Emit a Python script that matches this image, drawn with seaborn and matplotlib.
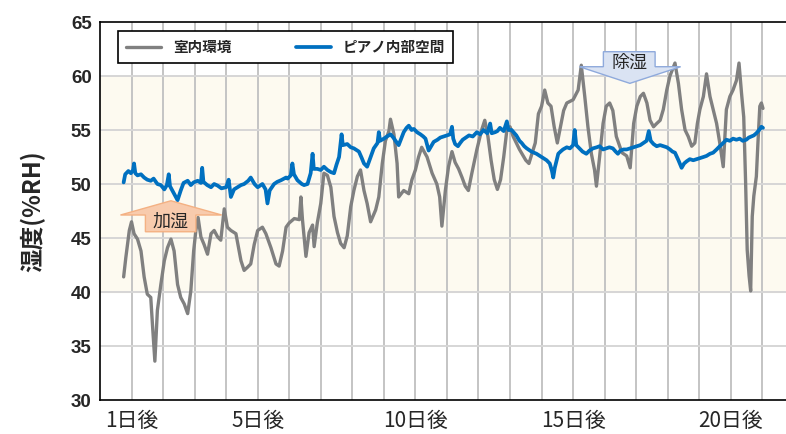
import pandas as pd
import seaborn as sns
import matplotlib.pyplot as plt
from matplotlib.patches import Polygon

# 室内環境 (room humidity), day -> %RH
room_day = [0.75, 0.82, 0.93, 1.00, 1.08, 1.19, 1.30, 1.40, 1.50, 1.61, 1.67, 1.74, 1.82, 1.93,
            2.04, 2.14, 2.25, 2.35, 2.46, 2.56, 2.67, 2.78, 2.88, 2.97, 3.04, 3.11, 3.20, 3.30,
            3.41, 3.52, 3.62, 3.73, 3.83, 3.94, 4.04, 4.15, 4.31, 4.47, 4.57, 4.68, 4.78, 4.89,
            5.00, 5.15, 5.26, 5.42, 5.58, 5.68, 5.79, 5.90, 6.00, 6.16, 6.32, 6.37, 6.42, 6.53,
            6.63, 6.74, 6.79, 6.89, 7.00, 7.10, 7.21, 7.32, 7.42, 7.53, 7.63, 7.74, 7.84, 7.95,
            8.05, 8.16, 8.26, 8.37, 8.47, 8.58, 8.74, 8.84, 8.95, 9.05, 9.16, 9.21, 9.32, 9.42,
            9.47, 9.63, 9.79, 9.89, 10.00, 10.10, 10.20, 10.37, 10.53, 10.68, 10.77, 10.84, 10.95,
            11.05, 11.16, 11.26, 11.37, 11.48, 11.58, 11.68, 11.79, 11.95, 12.10, 12.20, 12.30,
            12.40, 12.50, 12.60, 12.70, 12.80, 12.90, 13.00, 13.10, 13.30, 13.50, 13.60, 13.80,
            13.90, 14.00, 14.10, 14.20, 14.30, 14.40, 14.50, 14.60, 14.70, 14.80, 15.00, 15.16,
            15.26, 15.37, 15.47, 15.58, 15.68, 15.74, 15.84, 15.95, 16.05, 16.16, 16.26, 16.37,
            16.55, 16.70, 16.81, 16.92, 17.02, 17.13, 17.23, 17.34, 17.44, 17.55, 17.65, 17.76,
            17.86, 17.97, 18.07, 18.23, 18.34, 18.44, 18.55, 18.65, 18.76, 18.86, 18.94, 19.02,
            19.13, 19.23, 19.34, 19.44, 19.55, 19.65, 19.76, 19.86, 19.97, 20.07, 20.18, 20.26,
            20.34, 20.41, 20.47, 20.52, 20.58, 20.63, 20.68, 20.73, 20.81, 20.86, 20.92, 20.97,
            21.02]
room_rh = [41.4, 43.2, 45.7, 46.5, 45.4, 44.9, 43.8, 41.4, 39.8, 39.5, 36.7, 33.6, 38.3, 40.7,
           42.9, 44.1, 44.9, 43.8, 40.7, 39.5, 38.9, 38.0, 40.1, 43.8, 45.7, 46.9, 45.1, 44.4,
           43.5, 45.4, 45.7, 45.1, 44.8, 47.7, 46.0, 45.7, 45.4, 42.9, 42.0, 42.3, 42.6, 44.4,
           45.7, 46.0, 45.4, 44.1, 42.6, 42.4, 43.8, 46.0, 46.4, 46.8, 46.7, 48.8, 46.7, 43.3,
           45.5, 46.2, 44.2, 46.4, 48.2, 51.0, 50.8, 49.7, 47.0, 45.5, 44.5, 44.1, 45.2, 47.9,
           49.4, 50.7, 51.3, 49.4, 48.2, 46.5, 47.6, 48.8, 51.9, 54.0, 54.9, 56.0, 54.6, 51.9,
           48.8, 49.4, 49.1, 50.4, 51.3, 52.5, 53.4, 52.5, 51.0, 50.0, 48.8, 46.1, 49.4,
           51.6, 53.0, 52.0, 51.4, 50.6, 49.8, 49.4, 51.0, 53.2, 55.0, 55.9, 54.4,
           52.2, 50.4, 49.5, 50.4, 52.5, 55.0, 55.3, 54.4, 53.2, 52.2, 51.9, 53.8,
           56.5, 57.2, 58.7, 57.5, 57.2, 55.3, 53.8, 55.3, 56.8, 57.5, 57.8, 58.7,
           61.0, 58.1, 55.3, 52.8, 51.3, 49.8, 52.5, 55.6, 57.2, 57.5, 56.8, 54.4,
           52.9, 52.6, 51.5, 55.6, 57.2, 58.1, 58.4, 57.5, 55.9, 55.3, 55.6, 55.9,
           56.9, 58.7, 60.0, 61.2, 59.3, 56.9, 55.0, 54.4, 53.5, 53.8, 55.6, 56.9,
           58.1, 60.2, 58.1, 56.9, 55.6, 53.8, 51.6, 56.9, 58.1, 58.7, 59.6, 61.2,
           58.4, 56.2, 50.1, 43.9, 41.5, 40.1, 47.0, 48.9, 50.7, 53.8, 57.2, 57.5,
           57.0]

# ピアノ内部空間 (inside the piano), day -> %RH
piano_day = [0.75, 0.80, 0.90, 0.98, 1.05, 1.08, 1.12, 1.19, 1.30, 1.40, 1.50, 1.61, 1.70, 1.82,
             1.93, 2.04, 2.12, 2.18, 2.22, 2.35, 2.46, 2.56, 2.65, 2.78, 2.88, 2.97, 3.10, 3.20,
             3.24, 3.28, 3.40, 3.52, 3.62, 3.73, 3.85, 4.00, 4.08, 4.15, 4.25, 4.36, 4.47, 4.57,
             4.70, 4.78, 4.90, 5.00, 5.15, 5.25, 5.31, 5.38, 5.52, 5.62, 5.74, 5.90, 5.95, 6.05,
             6.10, 6.15, 6.26, 6.40, 6.47, 6.58, 6.68, 6.74, 6.78, 6.89, 7.00, 7.10, 7.21, 7.32,
             7.42, 7.50, 7.58, 7.66, 7.70, 7.84, 7.95, 8.05, 8.21, 8.30, 8.37, 8.47, 8.58, 8.68,
             8.80, 8.84, 8.88, 9.00, 9.10, 9.21, 9.30, 9.37, 9.47, 9.55, 9.63, 9.72, 9.79, 9.88,
             9.95, 10.05, 10.16, 10.25, 10.32, 10.42, 10.50, 10.58, 10.70, 10.79, 10.90, 11.00,
             11.10, 11.16, 11.20, 11.26, 11.35, 11.42, 11.50, 11.60, 11.70, 11.82, 11.95, 12.05,
             12.16, 12.28, 12.37, 12.42, 12.53, 12.60, 12.68, 12.80, 12.90, 12.95, 13.05, 13.20,
             13.30, 13.37, 13.45, 13.53, 13.68, 13.84, 14.00, 14.16, 14.26, 14.33, 14.37, 14.42,
             14.53, 14.60, 14.68, 14.80, 14.90, 15.00, 15.05, 15.10, 15.20, 15.30, 15.42, 15.52,
             15.63, 15.75, 15.84, 15.95, 16.05, 16.15, 16.26, 16.35, 16.42, 16.50, 16.60, 16.70,
             16.81, 16.92, 17.02, 17.13, 17.23, 17.33, 17.40, 17.46, 17.55, 17.65, 17.76, 17.86,
             17.97, 18.07, 18.15, 18.23, 18.34, 18.44, 18.52, 18.60, 18.70, 18.81, 18.92, 19.02,
             19.13, 19.23, 19.34, 19.44, 19.55, 19.65, 19.76, 19.86, 19.97, 20.07, 20.18, 20.28,
             20.38, 20.49, 20.57, 20.65, 20.73, 20.81, 20.90, 20.97, 21.02]
piano_rh = [50.15, 50.9, 51.2, 51.0, 51.3, 51.9, 51.0, 50.8, 50.9, 50.6, 50.4, 50.3, 50.5, 50.0,
            49.9, 49.5, 49.9, 50.9, 49.8, 49.1, 48.5, 49.4, 50.1, 50.3, 49.9, 50.15, 50.3, 50.1,
            51.5, 50.2, 49.9, 49.7, 50.0, 49.85, 49.6, 49.7, 50.4, 48.8, 49.5, 49.7, 49.9, 50.0,
            50.3, 50.6, 50.0, 49.7, 50.0, 49.5, 48.2, 49.4, 50.0, 50.2, 50.35, 50.6, 50.5, 50.8,
            51.9, 50.9, 50.35, 50.0, 49.9, 50.0, 51.0, 52.8, 51.4, 51.4, 51.3, 51.6, 51.3, 51.1,
            51.0, 51.8, 52.5, 54.6, 53.6, 53.7, 53.4, 53.3, 53.0, 52.4, 51.9, 51.6, 52.5, 53.3,
            53.8, 54.8, 54.0, 54.2, 54.4, 54.6, 54.3, 54.0, 53.6, 54.2, 54.8, 55.2, 55.4, 55.0,
            55.1, 54.8, 54.6, 54.4, 54.2, 53.1, 53.5, 53.9, 54.1, 54.3, 54.4, 54.5,
            54.6, 55.3, 54.2, 53.7, 53.5, 53.8, 54.1, 54.3, 54.5, 54.4, 54.8, 54.6,
            55.0, 54.7, 55.6, 54.7, 54.8, 54.9, 55.2, 54.9, 55.8, 55.0, 55.0, 54.5,
            54.0, 53.8, 53.5, 53.3, 53.0, 52.8, 52.5, 52.2, 51.9, 51.2, 50.6, 51.5,
            52.8, 53.0, 53.2, 53.4, 53.3, 53.6, 55.0, 53.6, 53.3, 53.0, 52.8, 53.1,
            53.3, 53.4, 53.5, 53.2, 53.3, 53.4, 53.3, 53.0, 52.8, 53.1, 53.2, 53.2,
            53.3, 53.4, 53.5, 53.6, 53.8, 54.0, 54.9, 54.0, 53.7, 53.5, 53.6, 53.5,
            53.4, 53.2, 53.0, 52.9, 52.2, 51.5, 51.9, 52.1, 52.3, 52.2, 52.3, 52.4,
            52.5, 52.6, 52.8, 52.9, 53.2, 53.5, 53.8, 54.1, 54.0, 54.2, 54.1, 54.2,
            54.0, 54.1, 54.3, 54.4, 54.5, 54.7, 55.0, 55.3, 55.2]

y_ticks = [30, 35, 40, 45, 50, 55, 60, 65]
x_label_days = [1, 5, 10, 15, 20]
x_labels = ['1日後', '5日後', '10日後', '15日後', '20日後']

sns.set_style('white')
plt.rcParams['font.family'] = ['Noto Sans CJK JP', 'DejaVu Sans']

fig = plt.figure(figsize=(7.86, 4.34), dpi=100)
ax = fig.add_axes([0.1272, 0.0783, 0.8728, 0.871])

room = pd.DataFrame({'day': room_day, 'rh': room_rh})
piano = pd.DataFrame({'day': piano_day, 'rh': piano_rh})

# comfortable range band and grid
ax.axhspan(40, 60, color='#FDFAF0', zorder=0)
for d in range(1, 22):
    ax.axvline(d, color='#C4C4C4', lw=1.4, zorder=1)
for v in y_ticks[1:-1]:
    ax.axhline(v, color='#D6D6D6', lw=1.4, zorder=1)

sns.lineplot(data=room, x='day', y='rh', color='#808080', linewidth=2.4,
             label='室内環境', ax=ax, zorder=3)
sns.lineplot(data=piano, x='day', y='rh', color='#0070C0', linewidth=2.7,
             label='ピアノ内部空間', ax=ax, zorder=4)

ax.set_xlim(0, 21.75)
ax.set_ylim(30, 65)

ax.set_yticks(y_ticks)
ax.set_yticklabels([str(v) for v in y_ticks], fontfamily='Liberation Sans',
                   fontweight='bold', fontsize=13.5)
ax.set_xticks(range(0, 22))
ax.set_xticklabels([x_labels[x_label_days.index(d)] if d in x_label_days else ''
                    for d in range(0, 22)], fontsize=15)
ax.tick_params(axis='both', direction='in', length=5, width=1, color='black')
ax.tick_params(axis='x', pad=7)
ax.tick_params(axis='y', pad=6)

ax.set_xlabel('')
ax.set_ylabel('湿度(%RH)', fontsize=17, fontweight='bold', labelpad=18)

for side in ['left', 'top', 'bottom']:
    ax.spines[side].set_color('black')
    ax.spines[side].set_linewidth(1.2)
ax.spines['right'].set_visible(False)

# block arrows
hum = Polygon([(1.44, 45.58), (3.04, 45.58), (3.04, 47.13), (3.86, 47.13),
               (2.25, 48.45), (0.65, 47.13), (1.44, 47.13)],
              closed=True, facecolor='#F8CBAD', edgecolor='#F4B183', lw=1, zorder=6)
ax.add_patch(hum)
ax.text(2.25, 46.55, '加湿', ha='center', va='center', fontsize=13, zorder=7)

dehum = Polygon([(15.96, 62.25), (17.6, 62.25), (17.6, 60.86), (18.41, 60.86),
                 (16.8, 59.32), (15.2, 60.86), (15.96, 60.86)],
                closed=True, facecolor='#DAE3F3', edgecolor='#8FAADC', lw=1, zorder=6)
ax.add_patch(dehum)
ax.text(16.78, 61.2, '除湿', ha='center', va='center', fontsize=13, zorder=7)

leg = ax.legend(loc='upper left', bbox_to_anchor=(0.0262, 0.976, 0.488, 0.0),
                mode='expand', ncol=2, frameon=True, fancybox=False,
                prop={'size': 10.5, 'weight': 'bold'}, handlelength=2.4,
                borderpad=0.55, borderaxespad=0)
leg.get_frame().set_edgecolor('black')
leg.get_frame().set_linewidth(1.2)
leg.get_frame().set_alpha(1)
leg.set_zorder(8)

plt.savefig('out.png', dpi=100)
